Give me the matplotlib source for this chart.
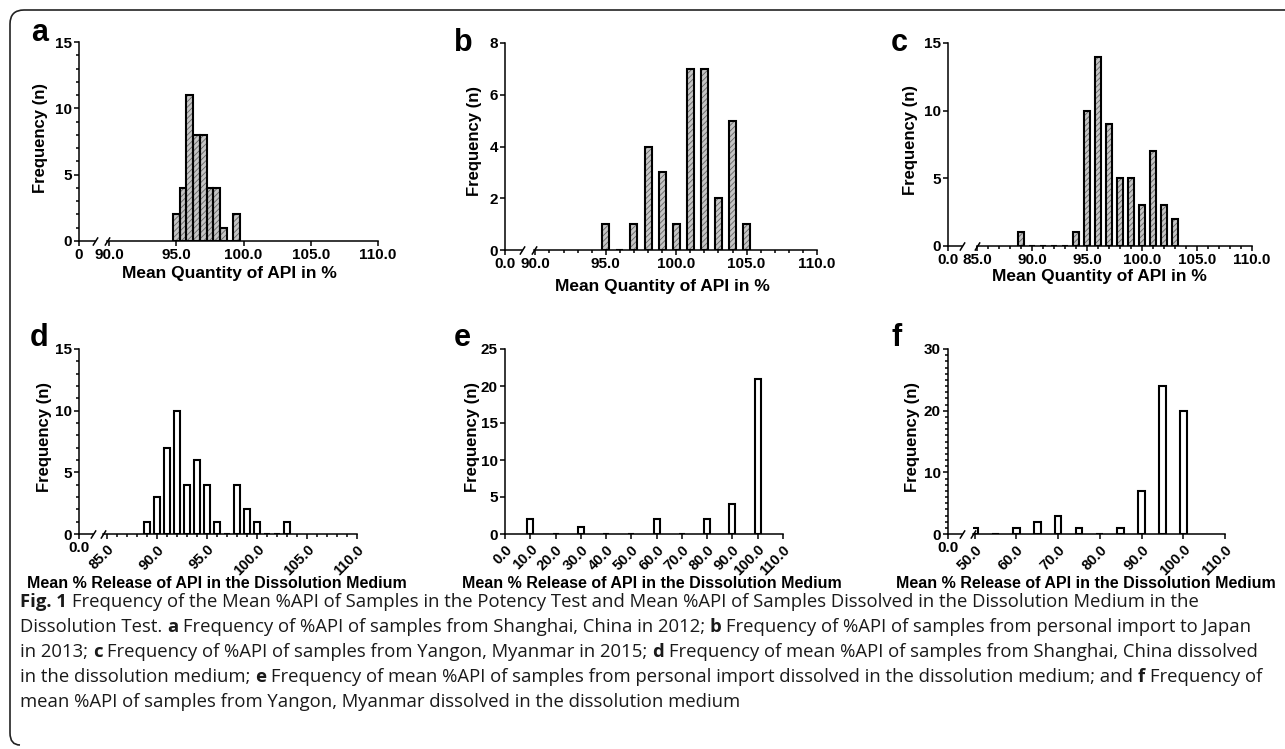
import matplotlib
matplotlib.use('Agg')
import matplotlib.pyplot as plt
from matplotlib.ticker import MultipleLocator
from matplotlib.path import Path
from matplotlib.patches import PathPatch
import matplotlib.transforms as mtransforms

plt.rcParams['font.family'] = ['Liberation Sans', 'DejaVu Sans']
plt.rcParams['font.weight'] = 'bold'
plt.rcParams['axes.labelweight'] = 'bold'
plt.rcParams['hatch.linewidth'] = 0.6

W, H = 1285, 749

# ---- data ----
# a: Shanghai 2012 potency
a_bins = [95.0, 95.5, 96.0, 96.5, 97.0, 97.5, 98.0, 98.5, 99.0, 99.5]
a_counts = [2, 4, 11, 8, 8, 4, 4, 1, 0, 2]
a_ticks = [90, 95, 100, 105, 110]

# b: personal import 2013 potency
b_bins = [95, 96, 97, 98, 99, 100, 101, 102, 103, 104, 105]
b_counts = [1, 0, 1, 4, 3, 1, 7, 7, 2, 5, 1]
b_ticks = [90, 95, 100, 105, 110]

# c: Yangon 2015 potency
c_bins = [89, 90, 91, 92, 93, 94, 95, 96, 97, 98, 99, 100, 101, 102, 103]
c_counts = [1, 0, 0, 0, 0, 1, 10, 14, 9, 5, 5, 3, 7, 3, 2]
c_ticks = [85, 90, 95, 100, 105, 110]

# d: Shanghai dissolution
d_bins = [89, 90, 91, 92, 93, 94, 95, 96, 97, 98, 99, 100, 101, 102, 103]
d_counts = [1, 3, 7, 10, 4, 6, 4, 1, 0, 4, 2, 1, 0, 0, 1]
d_ticks = [85, 90, 95, 100, 105, 110]

# e: personal import dissolution
e_bins = [10, 20, 30, 40, 50, 60, 70, 80, 90, 100]
e_counts = [2, 0, 1, 0, 0, 2, 0, 2, 4, 21]
e_ticks = [0, 10, 20, 30, 40, 50, 60, 70, 80, 90, 100, 110]

# f: Yangon dissolution
f_bins = [50, 55, 60, 65, 70, 75, 80, 85, 90, 95, 100]
f_counts = [1, 0, 1, 2, 3, 1, 0, 1, 7, 24, 20]
f_ticks = [50, 60, 70, 80, 90, 100, 110]

xlab_top = 'Mean Quantity of API in %'
xlab_bot = 'Mean % Release of API in the Dissolution Medium'

fig = plt.figure(figsize=(W / 100, H / 100), dpi=100)


def px_rect(x0, x1, ytop, ybot):
    return [x0 / W, 1 - ybot / H, (x1 - x0) / W, (ybot - ytop) / H]


def fx(x):
    return x / W


def fy(y):
    return 1 - y / H


def tick_style(ax):
    ax.tick_params(which='both', direction='out', width=1.1, labelsize=11, pad=1.5)
    ax.tick_params(which='major', length=3.6)
    ax.tick_params(which='minor', length=2.2)
    for s in ax.spines.values():
        s.set_linewidth(1.1)


brk = dict(marker=[(-1, -1.6), (1, 1.6)], markersize=6, linestyle='none',
           color='k', mec='k', mew=1.1, clip_on=False)


def draw_bars(ax, bins, counts, width, hatched):
    if hatched:
        ax.bar(bins, counts, width, color='#c4c4c4', edgecolor='#666666',
               linewidth=0, hatch='//////')
        ax.bar(bins, counts, width, fill=False, edgecolor='black', linewidth=1.5)
    else:
        ax.bar(bins, counts, width, color='white', edgecolor='black', linewidth=1.5)


def panel(letter, bins, counts, width, hatched, ticks, xlim, xminor,
          ymax, ystep, yminor, ytop, ybot, x_axis, stub, stub_label, rotate,
          xlabel, xlab_xy, ylab_xy, let_xy):
    if stub is not None:
        sax = fig.add_axes(px_rect(x_axis, stub, ytop, ybot))
        ax = fig.add_axes(px_rect(xlim[0], xlim[1], ytop, ybot))
        sax.set_xlim(0, 1)
        sax.set_ylim(0, ymax)
        sax.set_xticks([0])
        sax.set_xticklabels([stub_label])
        sax.spines['top'].set_visible(False)
        sax.spines['right'].set_visible(False)
        sax.plot([1], [0], transform=sax.transAxes, **brk)
        ax.plot([0], [0], transform=ax.transAxes, **brk)
        for s in ['left', 'top', 'right']:
            ax.spines[s].set_visible(False)
        ax.yaxis.set_visible(False)
        yax = sax
        tick_style(sax)
    else:
        ax = fig.add_axes(px_rect(x_axis, xlim[1], ytop, ybot))
        ax.spines['top'].set_visible(False)
        ax.spines['right'].set_visible(False)
        yax = ax
    draw_bars(ax, bins, counts, width, hatched)
    ax.set_xlim(xlim[2], xlim[3])
    ax.set_ylim(0, ymax)
    ax.set_xticks(ticks)
    ax.set_xticklabels(['%.1f' % t for t in ticks])
    if xminor:
        ax.xaxis.set_minor_locator(MultipleLocator(xminor))
    tick_style(ax)
    if rotate:
        for lab in ax.get_xticklabels():
            lab.set_rotation(45)
            lab.set_ha('right')
            lab.set_rotation_mode('anchor')
        ax.tick_params(axis='x', pad=2.5, labelsize=10.5)
    yax.yaxis.set_major_locator(MultipleLocator(ystep))
    if yminor:
        yax.yaxis.set_minor_locator(MultipleLocator(yminor))
    ax.set_xlabel(xlabel, fontsize=12.5 if not rotate else 11.5, va='center')
    ax.xaxis.set_label_coords(fx(xlab_xy[0]), fy(xlab_xy[1]), transform=fig.transFigure)
    yax.set_ylabel('Frequency (n)', fontsize=12, va='center')
    yax.yaxis.set_label_coords(fx(ylab_xy[0]), fy(ylab_xy[1]), transform=fig.transFigure)
    fig.text(fx(let_xy[0]), fy(let_xy[1]), letter, fontsize=22, weight='bold',
             ha='left', va='baseline')


# top row
panel('a', a_bins, a_counts, 0.5, True, a_ticks, (107, 378, 89.85, 110), None,
      15, 5, 1, 42, 241, 79, 95, '0', False, xlab_top, (229, 274), (40, 138), (31, 41))
panel('b', b_bins, b_counts, 0.5, True, b_ticks, (534, 817, 89.9, 110), 1,
      8, 2, None, 43, 250, 505, 522, '0.0', False, xlab_top, (662, 286), (475, 141), (454, 51))
panel('c', c_bins, c_counts, 0.55, True, c_ticks, (977, 1252, 85, 110), 1,
      15, 5, None, 43, 246, 948, 962, '0.0', False, xlab_top, (1099, 277), (910, 140), (891, 51))
# bottom row
panel('d', d_bins, d_counts, 0.6, False, d_ticks, (103, 357, 84.6, 110), 1,
      15, 5, 1, 349, 534, 79, 93, '0.0', True, xlab_bot, (217, 584), (45, 437), (30, 346))
panel('e', e_bins, e_counts, 2.4, False, e_ticks, (None, 783, 0, 110), None,
      25, 5, None, 349, 534, 505, None, None, True, xlab_bot, (652, 584), (472, 437), (454, 346))
panel('f', f_bins, f_counts, 1.6, False, f_ticks, (973, 1225, 49.6, 110), None,
      30, 10, 1, 349, 534, 948, 962, '0.0', True, xlab_bot, (1086, 584), (913, 437), (892, 346))

# outer frame: open at the right and bottom, rounded top-left corner
to_px = mtransforms.Affine2D().scale(1 / W, -1 / H).translate(0, 1) + fig.transFigure
verts = [(1285, 10), (24, 10), (10, 10), (10, 24), (10, 733), (10, 745), (20, 745)]
codes = [Path.MOVETO, Path.LINETO, Path.CURVE3, Path.CURVE3, Path.LINETO,
         Path.CURVE3, Path.CURVE3]
fig.add_artist(PathPatch(Path(verts, codes), fill=False, edgecolor='#222222',
                         linewidth=1.2, transform=to_px))

# caption with inline bold letters
cap_lines = [
    [('Fig. 1', True), ('Frequency of the Mean %API of Samples in the Potency Test and Mean %API of Samples Dissolved in the Dissolution Medium in the', False)],
    [('Dissolution Test.', False), ('a', True), ('Frequency of %API of samples from Shanghai, China in 2012;', False), ('b', True), ('Frequency of %API of samples from personal import to Japan', False)],
    [('in 2013;', False), ('c', True), ('Frequency of %API of samples from Yangon, Myanmar in 2015;', False), ('d', True), ('Frequency of mean %API of samples from Shanghai, China dissolved', False)],
    [('in the dissolution medium;', False), ('e', True), ('Frequency of mean %API of samples from personal import dissolved in the dissolution medium; and', False), ('f', True), ('Frequency of', False)],
    [('mean %API of samples from Yangon, Myanmar dissolved in the dissolution medium', False)],
]
cap_size = 13.3
cap_font = ['Open Sans', 'DejaVu Sans']
renderer = fig.canvas.get_renderer()
probe1 = fig.text(0, 0, 'x x', fontsize=cap_size, family=cap_font, weight='normal')
probe2 = fig.text(0, 0, 'xx', fontsize=cap_size, family=cap_font, weight='normal')
space = probe1.get_window_extent(renderer).width - probe2.get_window_extent(renderer).width
probe1.remove()
probe2.remove()

y0 = 607
for i, parts in enumerate(cap_lines):
    x = 20
    for txt, bold in parts:
        t = fig.text(fx(x), fy(y0 + 25 * i), txt, fontsize=cap_size, family=cap_font,
                     weight='bold' if bold else 'normal', ha='left', va='baseline',
                     color='#1a1a1a')
        x += t.get_window_extent(renderer).width + space

fig.savefig('out.png', dpi=100)
